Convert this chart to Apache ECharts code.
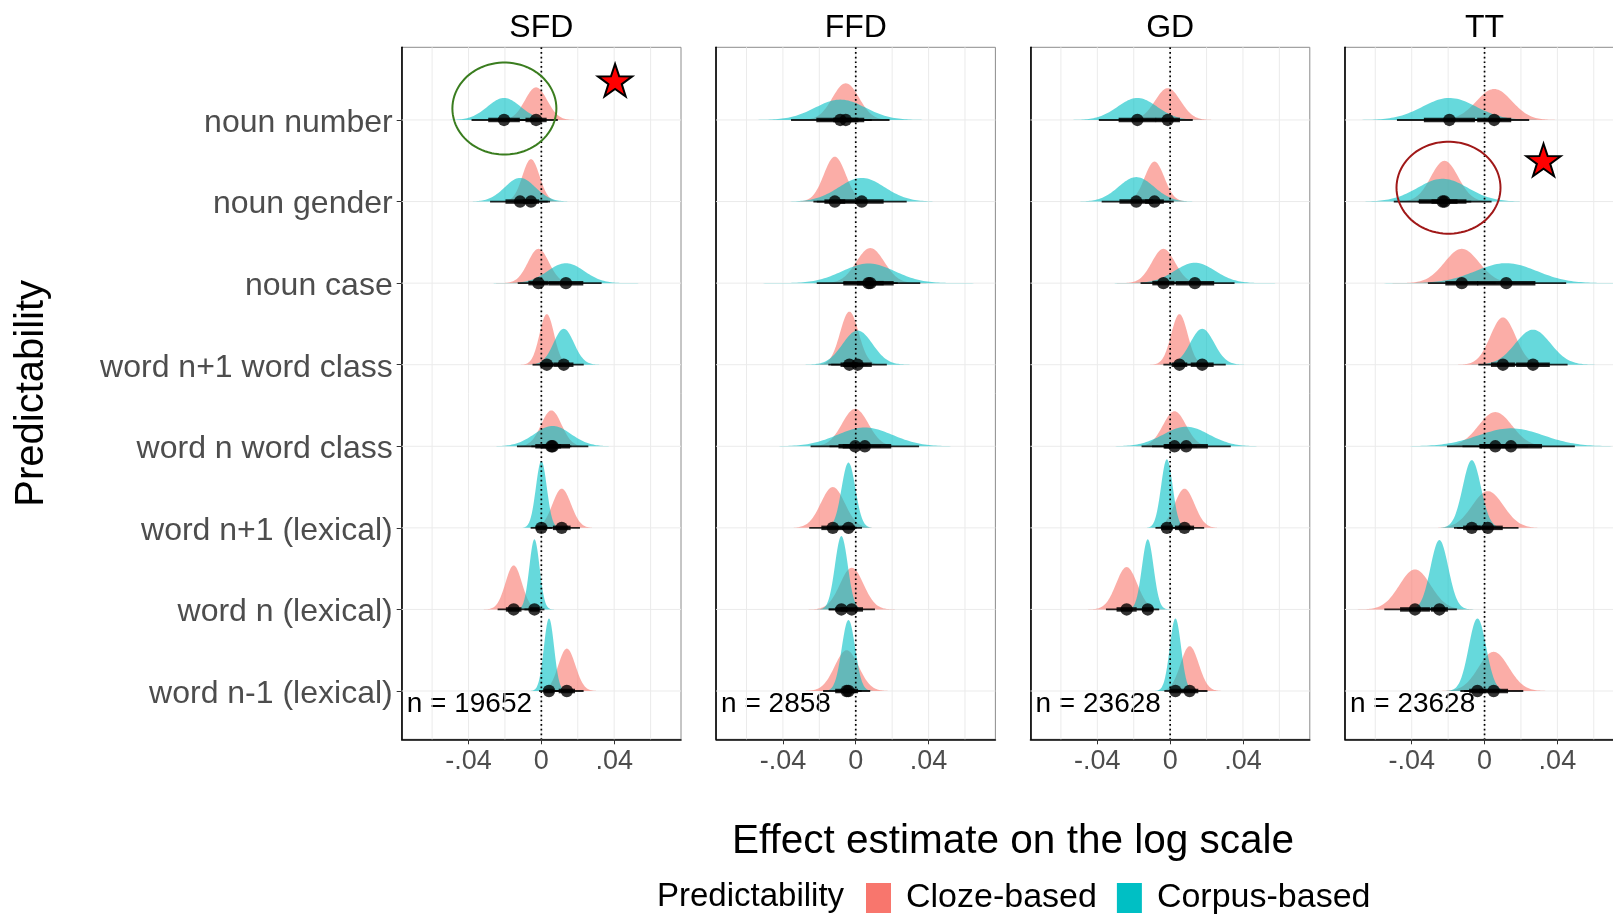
<!DOCTYPE html>
<html>
<head>
<meta charset="utf-8" />
<title>Predictability effects</title>
<script src="https://cdn.jsdelivr.net/npm/echarts@6/dist/echarts.min.js"></script>
<style type="text/css">
html, body { margin: 0; padding: 0; background: #fff; }
#chart { width: 1613px; height: 915px; }
</style>
</head>
<body>
<div id="chart"></div>
<script type="text/javascript">
var chart = echarts.init(document.getElementById('chart'));

var panels = ['SFD', 'FFD', 'GD', 'TT'];
var nObs = [19652, 2858, 23628, 23628];
// rows from top to bottom
var rowNames = ['noun number', 'noun gender', 'noun case', 'word n+1 word class',
    'word n word class', 'word n+1 (lexical)', 'word n (lexical)', 'word n-1 (lexical)'];
var xTickVals = [-0.04, 0, 0.04];
var xTickText = ['-.04', '0', '.04'];
var gridVals = [-0.06, -0.04, -0.02, 0, 0.02, 0.04, 0.06];

// posterior summaries (one row per panel: SFD, FFD, GD, TT)
var clozeMean = [
    [-0.0029, -0.0057, -0.0016, 0.0030, 0.0055, 0.0112, -0.0152, 0.0140],
    [-0.0055, -0.0115, 0.0080, -0.0035, -0.0003, -0.0126, -0.0022, -0.0050],
    [-0.0013, -0.0086, -0.0037, 0.0051, 0.0024, 0.0079, -0.0239, 0.0107],
    [0.0053, -0.0220, -0.0125, 0.0101, 0.0059, 0.0018, -0.0382, 0.0050]
];
var clozeSd = [
    [0.0061, 0.0047, 0.0058, 0.0040, 0.0056, 0.0051, 0.0045, 0.0047],
    [0.0073, 0.0060, 0.0077, 0.0051, 0.0072, 0.0066, 0.0065, 0.0066],
    [0.0070, 0.0054, 0.0064, 0.0045, 0.0063, 0.0055, 0.0058, 0.0050],
    [0.0098, 0.0075, 0.0095, 0.0069, 0.0092, 0.0086, 0.0086, 0.0083]
];
var clozePeak = [
    [0.40, 0.52, 0.42, 0.62, 0.44, 0.48, 0.54, 0.52],
    [0.45, 0.55, 0.43, 0.65, 0.46, 0.50, 0.51, 0.50],
    [0.39, 0.49, 0.42, 0.62, 0.43, 0.48, 0.52, 0.55],
    [0.38, 0.50, 0.42, 0.58, 0.42, 0.45, 0.49, 0.48]
];
var corpusMean = [
    [-0.0205, -0.0117, 0.0135, 0.0123, 0.0062, 0.0000, -0.0038, 0.0042],
    [-0.0085, 0.0033, 0.0070, 0.0010, 0.0050, -0.0040, -0.0079, -0.0040],
    [-0.0180, -0.0186, 0.0136, 0.0176, 0.0088, -0.0018, -0.0123, 0.0029],
    [-0.0193, -0.0230, 0.0119, 0.0266, 0.0145, -0.0070, -0.0248, -0.0039]
];
var corpusSd = [
    [0.0091, 0.0084, 0.0100, 0.0056, 0.0100, 0.0030, 0.0028, 0.0028],
    [0.0138, 0.0126, 0.0145, 0.0082, 0.0152, 0.0038, 0.0035, 0.0037],
    [0.0108, 0.0097, 0.0111, 0.0066, 0.0125, 0.0032, 0.0032, 0.0031],
    [0.0147, 0.0137, 0.0168, 0.0097, 0.0179, 0.0050, 0.0049, 0.0048]
];
var corpusPeak = [
    [0.27, 0.29, 0.245, 0.44, 0.25, 0.82, 0.86, 0.89],
    [0.25, 0.29, 0.24, 0.42, 0.23, 0.80, 0.90, 0.87],
    [0.27, 0.30, 0.25, 0.44, 0.24, 0.84, 0.86, 0.89],
    [0.27, 0.28, 0.245, 0.43, 0.22, 0.83, 0.85, 0.89]
];

// annotations: [panel, x, y]
var circleNotes = [[0, -0.0203, 8.14], [3, -0.0198, 7.17]];
var circleColors = ['#3a7d1f', '#a01818'];
var starNotes = [[0, 0.0405, 8.466], [3, 0.0324, 7.488]];

var FONT = '"Liberation Sans", Arial, Helvetica, sans-serif';
var L0 = 401.7, PW = 279.3, PSTEP = 314.4, PTOP = 47.3, PH = 692;
var XMIN = -0.0767, XMAX = 0.0767, YMIN = 0.408, YMAX = 8.891;
var nRows = rowNames.length;

function rowValue(k) { return nRows - k; }

function densityRenderer(fill) {
    return function (params, api) {
        var mu = api.value(0), y = api.value(1), sd = api.value(2), pk = api.value(3);
        var x0 = Math.max(XMIN, mu - 4 * sd), x1 = Math.min(XMAX, mu + 4 * sd);
        var pts = [];
        var n = 100;
        for (var k = 0; k <= n; k++) {
            var x = x0 + (x1 - x0) * k / n;
            var h = pk * Math.exp(-0.5 * Math.pow((x - mu) / sd, 2));
            pts.push(api.coord([x, y + h]));
        }
        pts.push(api.coord([x1, y]));
        pts.push(api.coord([x0, y]));
        return { type: 'polygon', shape: { points: pts }, style: { fill: fill } };
    };
}

function renderInterval(params, api) {
    var mu = api.value(0), y = api.value(1), sd = api.value(2);
    var a = api.coord([mu - 1.96 * sd, y]), b = api.coord([mu + 1.96 * sd, y]);
    var c = api.coord([mu - 0.954 * sd, y]), d = api.coord([mu + 0.954 * sd, y]);
    var m = api.coord([mu, y]);
    return {
        type: 'group',
        children: [
            { type: 'line', shape: { x1: a[0], y1: a[1], x2: b[0], y2: b[1] }, style: { stroke: '#000', lineWidth: 1.8, opacity: 0.85 } },
            { type: 'line', shape: { x1: c[0], y1: c[1], x2: d[0], y2: d[1] }, style: { stroke: '#000', lineWidth: 4.5, opacity: 0.85 } },
            { type: 'circle', shape: { cx: m[0], cy: m[1], r: 6.2 }, style: { fill: '#000', opacity: 0.8 } }
        ]
    };
}

function renderVLine(params, api) {
    var p = api.coord([api.value(0), 1]);
    var cs = params.coordSys;
    return { type: 'line', shape: { x1: p[0], y1: cs.y, x2: p[0], y2: cs.y + cs.height },
        style: { stroke: '#ebebeb', lineWidth: 1 } };
}

function renderHLine(params, api) {
    var p = api.coord([0, api.value(1)]);
    var cs = params.coordSys;
    return { type: 'line', shape: { x1: cs.x, y1: p[1], x2: cs.x + cs.width, y2: p[1] },
        style: { stroke: '#ebebeb', lineWidth: 1 } };
}

function renderZero(params, api) {
    var p = api.coord([0, 1]);
    var cs = params.coordSys;
    return { type: 'line', shape: { x1: p[0], y1: cs.y, x2: p[0], y2: cs.y + cs.height },
        style: { stroke: '#000', lineWidth: 1.7, lineDash: [1.7, 3] } };
}

function renderEllipse(params, api) {
    var c = api.coord([api.value(0), api.value(1)]);
    var col = circleColors[api.value(2)];
    var pts = [];
    for (var k = 0; k < 90; k++) {
        var t = 2 * Math.PI * k / 90;
        pts.push([c[0] + 52 * Math.cos(t), c[1] + 46 * Math.sin(t)]);
    }
    return { type: 'polygon', shape: { points: pts }, style: { fill: 'none', stroke: col, lineWidth: 2 } };
}

function renderStar(params, api) {
    var c = api.coord([api.value(0), api.value(1)]);
    var pts = [];
    for (var k = 0; k < 10; k++) {
        var r = k % 2 === 0 ? 18 : 7;
        var t = -Math.PI / 2 + Math.PI * k / 5;
        pts.push([c[0] + r * Math.cos(t), c[1] + r * Math.sin(t)]);
    }
    return { type: 'polygon', shape: { points: pts }, style: { fill: '#ff0000', stroke: '#000', lineWidth: 2, lineJoin: 'miter' } };
}

var grids = [], xAxes = [], yAxes = [], series = [], graphics = [];

panels.forEach(function (p, i) {
    var left = L0 + PSTEP * i;
    grids.push({
        left: left, top: PTOP, width: PW, height: PH,
        show: true, borderColor: '#8c8c8c', borderWidth: 1, backgroundColor: '#fff',
        containLabel: false, outerBoundsMode: 'none'
    });
    xAxes.push({
        type: 'value', gridIndex: i, min: XMIN, max: XMAX,
        axisLine: { show: true, onZero: false, lineStyle: { color: '#000', width: 1.6 } },
        axisTick: { show: true, customValues: xTickVals, length: 5, lineStyle: { color: '#333', width: 1 } },
        axisLabel: {
            customValues: xTickVals, margin: 9, fontSize: 27, color: '#4d4d4d', fontFamily: FONT,
            formatter: function (v) {
                var best = 0;
                xTickVals.forEach(function (t, j) { if (Math.abs(t - v) < Math.abs(xTickVals[best] - v)) best = j; });
                return xTickText[best];
            }
        },
        splitLine: { show: false }
    });
    var yAx = {
        type: 'value', gridIndex: i, min: YMIN, max: YMAX,
        axisLine: { show: true, onZero: false, lineStyle: { color: '#000', width: 1.6 } },
        axisTick: { show: false },
        axisLabel: { show: false },
        splitLine: { show: false }
    };
    if (i === 0) {
        yAx.axisTick = { show: true, customValues: [1, 2, 3, 4, 5, 6, 7, 8], length: 5, lineStyle: { color: '#333', width: 1 } };
        yAx.axisLabel = {
            show: true, customValues: [1, 2, 3, 4, 5, 6, 7, 8], margin: 9, fontSize: 32, color: '#4d4d4d', fontFamily: FONT,
            verticalAlign: 'top', lineHeight: 6,
            formatter: function (v) { return rowNames[nRows - Math.round(v)]; }
        };
        yAx.name = 'Predictability';
        yAx.nameLocation = 'middle';
        yAx.nameRotate = 90;
        yAx.nameGap = 350;
        yAx.nameTextStyle = { fontSize: 40, color: '#000', fontFamily: FONT };
    }
    yAxes.push(yAx);

    var base = { type: 'custom', xAxisIndex: i, yAxisIndex: i, silent: true, animation: false };

    series.push(Object.assign({}, base, {
        renderItem: renderVLine, encode: { x: 0, y: 1 },
        data: gridVals.map(function (v) { return [v, 1]; })
    }));
    series.push(Object.assign({}, base, {
        renderItem: renderHLine, encode: { x: 0, y: 1 },
        data: rowNames.map(function (r, k) { return [0, rowValue(k)]; })
    }));
    series.push(Object.assign({}, base, {
        name: 'Cloze-based', itemStyle: { color: '#F8766D' },
        renderItem: densityRenderer('rgba(248,118,109,0.6)'), encode: { x: 0, y: 1 },
        data: rowNames.map(function (r, k) { return [clozeMean[i][k], rowValue(k), clozeSd[i][k], clozePeak[i][k]]; })
    }));
    series.push(Object.assign({}, base, {
        name: 'Corpus-based', itemStyle: { color: '#00BFC4' },
        renderItem: densityRenderer('rgba(0,191,196,0.6)'), encode: { x: 0, y: 1 },
        data: rowNames.map(function (r, k) { return [corpusMean[i][k], rowValue(k), corpusSd[i][k], corpusPeak[i][k]]; })
    }));
    series.push(Object.assign({}, base, {
        renderItem: renderZero, encode: { x: 0, y: 1 }, data: [[0, 1]]
    }));
    var ivData = [];
    rowNames.forEach(function (r, k) {
        ivData.push([clozeMean[i][k], rowValue(k), clozeSd[i][k]]);
        ivData.push([corpusMean[i][k], rowValue(k), corpusSd[i][k]]);
    });
    series.push(Object.assign({}, base, {
        renderItem: renderInterval, encode: { x: 0, y: 1 }, data: ivData
    }));

    var circ = circleNotes.map(function (c, j) { return c[0] === i ? [c[1], c[2], j] : null; }).filter(Boolean);
    if (circ.length) {
        series.push(Object.assign({}, base, { renderItem: renderEllipse, encode: { x: 0, y: 1 }, data: circ, z: 5 }));
    }
    var stars = starNotes.filter(function (s) { return s[0] === i; }).map(function (s) { return [s[1], s[2]]; });
    if (stars.length) {
        series.push(Object.assign({}, base, { renderItem: renderStar, encode: { x: 0, y: 1 }, data: stars, z: 5 }));
    }

    graphics.push({
        type: 'text', x: left + PW / 2, y: 28,
        style: { text: p, fontSize: 32, fill: '#000', fontFamily: FONT, textAlign: 'center', textVerticalAlign: 'middle' }
    });
    graphics.push({
        type: 'text', x: left + 5, y: 704,
        style: { text: 'n = ' + nObs[i], fontSize: 28, fill: '#000', fontFamily: FONT, textAlign: 'left', textVerticalAlign: 'middle' }
    });
});

graphics.push({
    type: 'text', x: 1013, y: 842,
    style: { text: 'Effect estimate on the log scale', fontSize: 40.5, fill: '#000', fontFamily: FONT, textAlign: 'center', textVerticalAlign: 'middle' }
});
graphics.push({
    type: 'text', x: 657, y: 897,
    style: { text: 'Predictability', fontSize: 33, fill: '#000', fontFamily: FONT, textAlign: 'left', textVerticalAlign: 'middle' }
});

var option = {
    animation: false,
    backgroundColor: '#fff',
    grid: grids,
    xAxis: xAxes,
    yAxis: yAxes,
    legend: {
        data: ['Cloze-based', 'Corpus-based'],
        left: 866, top: 881, padding: 0,
        icon: 'rect', itemWidth: 25, itemHeight: 30, itemGap: 20,
        selectedMode: false,
        textStyle: { fontSize: 34, color: '#000', fontFamily: FONT, padding: [0, 0, 0, 10] }
    },
    graphic: graphics,
    series: series
};

chart.setOption(option);
</script>
</body>
</html>
